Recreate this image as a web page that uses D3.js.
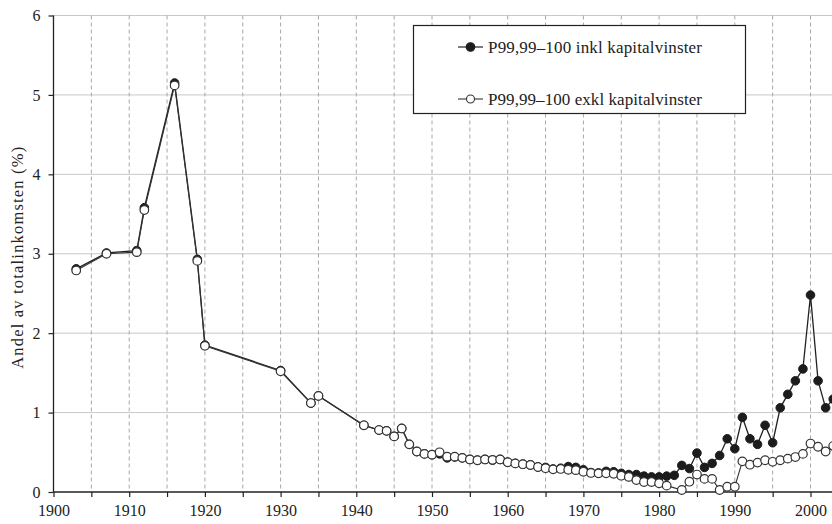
<!DOCTYPE html>
<html><head><meta charset="utf-8">
<script src="https://cdn.jsdelivr.net/npm/d3@7"></script>
<style>
html,body{margin:0;padding:0;background:#fff;overflow:hidden}
svg text{font-family:"Liberation Serif","DejaVu Serif","Noto Serif","Times New Roman",Times,serif !important;fill:#222}
</style></head>
<body><svg id="c" width="832" height="524"></svg>
<script>
const years = [1903,1907,1911,1912,1916,1919,1920,1930,1934,1935,1941,1943,1944,1945,1946,1947,1948,1949,1950,
1951,1952,1953,1954,1955,1956,1957,1958,1959,1960,1961,1962,1963,1964,1965,1966,1967,1968,1969,1970,
1971,1972,1973,1974,1975,1976,1977,1978,1979,1980,1981,1982,1983,1984,1985,1986,1987,1988,1989,1990,
1991,1992,1993,1994,1995,1996,1997,1998,1999,2000,2001,2002,2003];
const inkl = [2.81,3.01,3.04,3.58,5.15,2.93,1.85,1.53,1.12,1.21,0.84,0.78,0.77,0.70,0.80,0.60,0.51,0.48,0.47,
0.48,0.43,0.44,0.43,0.41,0.40,0.41,0.40,0.41,0.375,0.36,0.35,0.34,0.315,0.31,0.29,0.30,0.32,0.31,0.28,
0.245,0.24,0.26,0.255,0.235,0.22,0.22,0.20,0.19,0.19,0.20,0.21,0.335,0.295,0.49,0.31,0.36,0.46,0.67,0.545,
0.94,0.67,0.60,0.84,0.62,1.06,1.23,1.40,1.55,2.48,1.40,1.06,1.17];
const exkl = [2.79,3.00,3.02,3.55,5.12,2.91,1.84,1.52,1.12,1.21,0.84,0.78,0.77,0.70,0.80,0.60,0.51,0.48,0.47,
0.50,0.445,0.445,0.43,0.41,0.40,0.41,0.405,0.41,0.375,0.36,0.35,0.34,0.315,0.30,0.285,0.29,0.28,0.275,0.255,
0.24,0.235,0.235,0.23,0.205,0.19,0.15,0.125,0.125,0.11,0.08,null,0.025,0.13,0.22,0.165,0.165,0.025,0.067,0.067,
0.386,0.344,0.37,0.40,0.38,0.40,0.42,0.44,0.48,0.61,0.57,0.51,0.58];
const seriesNames = ["P99,99\u2013100 inkl kapitalvinster","P99,99\u2013100 exkl kapitalvinster"];
const yTicks = [0,1,2,3,4,5,6];
const xLabelTicks = [1900,1910,1920,1930,1940,1950,1960,1970,1980,1990,2000];
const xGridTicks = d3.range(1905, 2001, 5);
const yTitle = "Andel av totalinkomsten (%)";

const FONT = '"Liberation Serif","DejaVu Serif","Noto Serif",serif';
const W = 832, H = 524;
const svg = d3.select("#c");
const x = d3.scaleLinear().domain([1900, 2003]).range([53.5, 53.5 + 7.57*103]);
const y = d3.scaleLinear().domain([0, 6]).range([492, 15.5]);

// horizontal grid
svg.append("g").selectAll("line").data(yTicks.filter(d=>d>0)).join("line")
  .attr("x1", x(1900)).attr("x2", W).attr("y1", d=>y(d)).attr("y2", d=>y(d))
  .attr("stroke", "#c8c8c8").attr("stroke-width", 1);
// vertical dashed grid
svg.append("g").selectAll("line").data(xGridTicks).join("line")
  .attr("x1", d=>x(d)).attr("x2", d=>x(d)).attr("y1", y(6)).attr("y2", y(0))
  .attr("stroke", "#a8a8a8").attr("stroke-width", 1).attr("stroke-dasharray", "4,3");

// axes
const xAxis = d3.axisBottom(x).tickValues(d3.range(1900, 2001, 5)).tickSize(5)
  .tickFormat(d => xLabelTicks.includes(d) ? d : "").tickPadding(8);
const gx = svg.append("g").attr("transform", `translate(0,${y(0)})`).call(xAxis).attr("font-family", FONT);
gx.select(".domain").attr("d", `M${x(1900)},0H${W}`).attr("stroke", "#222").attr("stroke-width", 1.3);
gx.selectAll(".tick line").attr("stroke", "#222").attr("stroke-width", 1.2);
gx.selectAll("text").attr("font-size", 16).attr("font-family", FONT).attr("fill", "#222");

const yAxis = d3.axisLeft(y).tickValues(yTicks).tickSize(5).tickPadding(8).tickFormat(d3.format("d"));
const gy = svg.append("g").attr("transform", `translate(${x(1900)},0)`).call(yAxis).attr("font-family", FONT);
gy.select(".domain").attr("d", `M0,${y(6)}V${y(0)}`).attr("stroke", "#222").attr("stroke-width", 1.3);
gy.selectAll(".tick line").attr("stroke", "#222").attr("stroke-width", 1.2);
gy.selectAll("text").attr("font-size", 16).attr("font-family", FONT).attr("fill", "#222");

svg.append("text").attr("transform", `translate(19,${(y(0)+y(6))/2+4}) rotate(-90)`)
  .attr("text-anchor", "middle").attr("font-size", 16.5).attr("dominant-baseline","middle")
  .attr("font-family", FONT)
  .attr("textLength", 222).attr("lengthAdjust", "spacing").text(yTitle);

// series
const dataI = years.map((yr,i)=>({yr, v: inkl[i]})).filter(d=>d.v!=null);
const dataE = years.map((yr,i)=>({yr, v: exkl[i]})).filter(d=>d.v!=null);
const line = d3.line().x(d=>x(d.yr)).y(d=>y(d.v));
const R = 4.3;

svg.append("path").datum(dataI).attr("d", line).attr("fill","none").attr("stroke","#222").attr("stroke-width",1.3);
svg.append("g").selectAll("circle").data(dataI).join("circle")
  .attr("cx", d=>x(d.yr)).attr("cy", d=>y(d.v)).attr("r", R)
  .attr("fill", "#1c1c1c").attr("stroke", "#1c1c1c").attr("stroke-width", 1);

svg.append("path").datum(dataE).attr("d", line).attr("fill","none").attr("stroke","#333").attr("stroke-width",1.1);
svg.append("g").selectAll("circle").data(dataE).join("circle")
  .attr("cx", d=>x(d.yr)).attr("cy", d=>y(d.v)).attr("r", R)
  .attr("fill", "#fff").attr("stroke", "#333").attr("stroke-width", 1.2);

// legend
const lg = svg.append("g");
lg.append("rect").attr("x", 413.5).attr("y", 25.5).attr("width", 332).attr("height", 88)
  .attr("fill", "#fff").attr("stroke", "#222").attr("stroke-width", 1.2);
const rows = [{name: seriesNames[0], cy: 47, fill: "#1c1c1c"}, {name: seriesNames[1], cy: 99, fill: "#fff"}];
rows.forEach((r, i) => {
  lg.append("line").attr("x1", 458).attr("x2", 483).attr("y1", r.cy).attr("y2", r.cy)
    .attr("stroke", "#333").attr("stroke-width", i===0?1.3:1.1);
  lg.append("circle").attr("cx", 470.5).attr("cy", r.cy).attr("r", i===0?4.3:4)
    .attr("fill", r.fill).attr("stroke", i===0?"#1c1c1c":"#333").attr("stroke-width", 1.1);
  lg.append("text").attr("x", 488).attr("y", r.cy + 5.5).attr("font-size", 17)
    .attr("font-family", FONT)
    .attr("textLength", 214).attr("lengthAdjust", "spacing").text(r.name);
});
</script></body></html>
